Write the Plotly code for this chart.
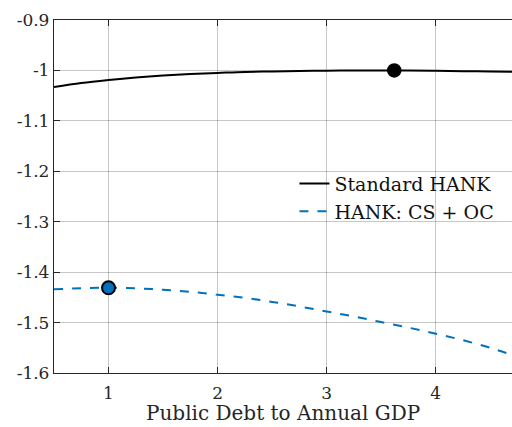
import plotly.graph_objects as go

debt = [0.5, 0.75, 1.0, 1.25, 1.5, 1.75, 2.0, 2.25, 2.5, 2.75, 3.0, 3.25, 3.5, 3.75, 4.0, 4.25, 4.5, 4.75]
standard_hank = [-1.033, -1.025, -1.019, -1.014, -1.010, -1.007, -1.005, -1.003, -1.002, -1.001,
                 -1.0005, -1.0001, -1.0, -1.0002, -1.0008, -1.0015, -1.002, -1.003]
hank_cs_oc = [-1.434, -1.432, -1.431, -1.432, -1.435, -1.439, -1.445, -1.451, -1.459, -1.468,
              -1.478, -1.488, -1.499, -1.510, -1.522, -1.535, -1.550, -1.568]

opt_standard_x = [3.62]
opt_standard_y = [-1.0]
opt_cs_x = [1.0]
opt_cs_y = [-1.431]

series_names = ["Standard HANK", "HANK: CS + OC"]
x_ticks = [1, 2, 3, 4]
y_ticks = [-1.6, -1.5, -1.4, -1.3, -1.2, -1.1, -1.0, -0.9]
y_tick_labels = ["-1.6", "-1.5", "-1.4", "-1.3", "-1.2", "-1.1", "-1", "-0.9"]
x_title = "Public Debt to Annual GDP"

FONT = "'DejaVu Serif', 'Liberation Serif', serif"
BLUE = "#0072BD"

fig = go.Figure()
fig.add_trace(go.Scatter(x=debt, y=standard_hank, mode="lines", name=series_names[0],
                         line=dict(color="black", width=2, shape="spline")))
fig.add_trace(go.Scatter(x=debt, y=hank_cs_oc, mode="lines", name=series_names[1],
                         line=dict(color=BLUE, width=2, dash="dash", shape="spline")))
fig.add_trace(go.Scatter(x=opt_standard_x, y=opt_standard_y, mode="markers", showlegend=False,
                         marker=dict(color="black", size=13, line=dict(color="black", width=1.5))))
fig.add_trace(go.Scatter(x=opt_cs_x, y=opt_cs_y, mode="markers", showlegend=False,
                         marker=dict(color=BLUE, size=13, line=dict(color="black", width=2))))

fig.update_layout(
    width=512, height=427,
    margin=dict(l=54, r=0, t=20, b=54, autoexpand=False),
    paper_bgcolor="white", plot_bgcolor="white",
    font=dict(family=FONT, color="#262626", size=17),
    legend=dict(x=0.525, y=0.59, xanchor="left", yanchor="top",
                bgcolor="rgba(0,0,0,0)", font=dict(family=FONT, size=19, color="#111111"),
                tracegroupgap=0, itemwidth=30),
    xaxis=dict(range=[0.5, 4.7], tickvals=x_ticks, showgrid=True, automargin=False,
               gridcolor="rgba(0,0,0,0.22)", gridwidth=1,
               showline=True, linecolor="#262626", linewidth=1.3, mirror="ticks",
               ticks="inside", ticklen=6, tickcolor="#262626", ticklabelstandoff=4,
               zeroline=False, tickfont=dict(family=FONT, size=17)),
    yaxis=dict(range=[-1.6, -0.9], tickvals=y_ticks, ticktext=y_tick_labels, showgrid=True,
               automargin=False, tickfont=dict(family=FONT, size=17),
               gridcolor="rgba(0,0,0,0.22)", gridwidth=1,
               showline=True, linecolor="#262626", linewidth=1.3, mirror=False,
               ticks="inside", ticklen=6, tickcolor="#262626", zeroline=False),
    annotations=[dict(text=x_title, xref="paper", yref="paper", x=0.5, y=-0.152,
                      xanchor="center", yanchor="bottom", showarrow=False,
                      font=dict(family=FONT, size=20, color="#262626"))],
)

fig.write_html(
    "out.html",
    config={"displayModeBar": False},
    post_script="document.body.style.margin='0';document.documentElement.style.overflow='hidden';document.body.style.overflow='hidden';",
)
